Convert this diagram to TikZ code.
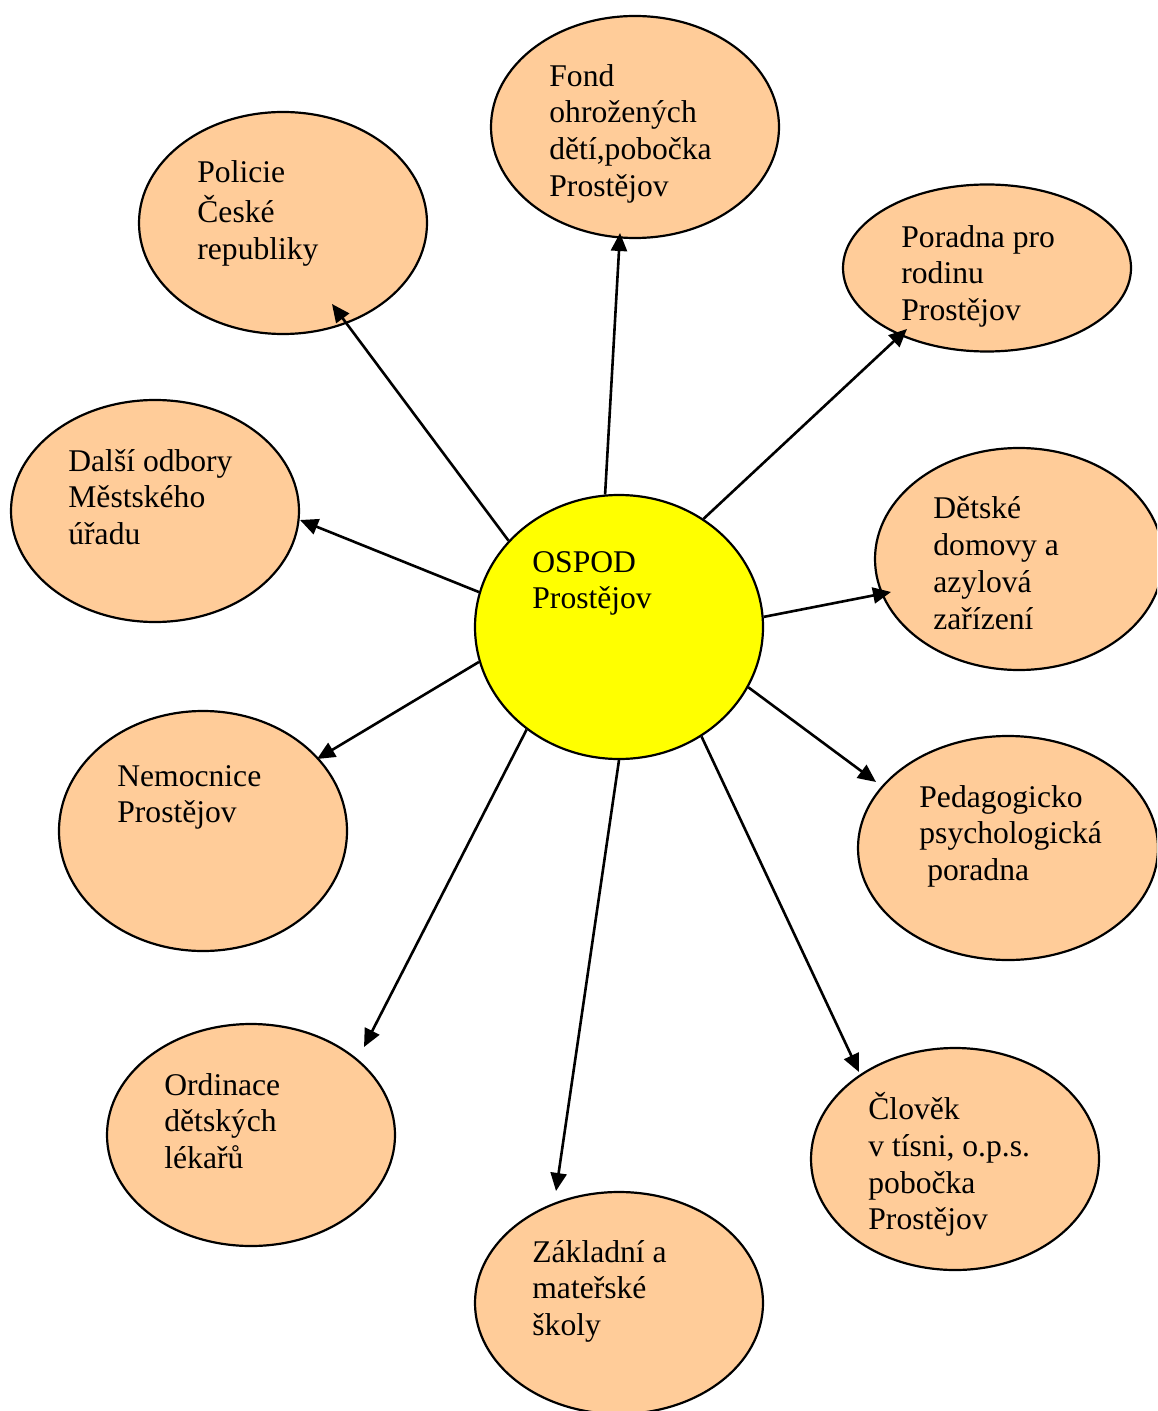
\documentclass[tikz,border=0pt]{standalone}
\usepackage{fontspec}
\setmainfont{Liberation Serif}
\usetikzlibrary{arrows.meta,shapes.geometric}
\definecolor{peach}{HTML}{FFCC99}
\definecolor{ospodyellow}{HTML}{FFFF00}
\begin{document}
\begin{tikzpicture}[x=0.5pt,y=-0.5pt,
  bubble/.style={ellipse, draw=black, line width=1.1pt, fill=peach, inner sep=0pt,
                 minimum width=144pt, minimum height=111pt},
  txt/.style={anchor=north west, inner sep=0pt, align=left,
              font=\fontsize{15.8}{18.4}\selectfont},
  link/.style={line width=1.3pt, -{Triangle[length=9pt,width=8pt]}}
]
\useasboundingbox (0,0) rectangle (1157,1411);
\clip (0,0) rectangle (1157,1411);

% ellipses
\node[bubble] (policie) at (283,223) {};
\node[bubble] (fond) at (635,127) {};
\node[bubble, minimum height=83.5pt] (poradna) at (987,268) {};
\node[bubble] (dalsi) at (155,511) {};
\node[bubble, fill=ospodyellow, minimum height=132pt] (ospod) at (619,627) {};
\node[bubble] (detske) at (1019,559) {};
\node[bubble, minimum height=120pt] (nemocnice) at (203,831) {};
\node[bubble, minimum width=150pt, minimum height=112pt] (pedag) at (1008,848) {};
\node[bubble] (ordinace) at (251,1135) {};
\node[bubble] (zakladni) at (619,1303) {};
\node[bubble] (clovek) at (955,1159) {};

% arrow tips
\coordinate (tPolicie) at (332,304);
\coordinate (tFond) at (620,233);
\coordinate (tPoradna) at (907,329);
\coordinate (tDalsi) at (300,520);
\coordinate (tDetske) at (891,592);
\coordinate (tNemocnice) at (317,759);
\coordinate (tPedag) at (876,782);
\coordinate (tOrdinace) at (364,1047);
\coordinate (tZakladni) at (556,1191);
\coordinate (tClovek) at (859,1072);

% connectors
\draw[link] (ospod.142.8) -- (tPolicie);
\draw[link] (ospod.96.5) -- (tFond);
\draw[link] (ospod.52.9) -- (tPoradna);
\draw[link] (ospod.166.2) -- (tDalsi);
\draw[link] (ospod.4.4) -- (tDetske);
\draw[link] (ospod.194.5) -- (tNemocnice);
\draw[link] (ospod.-25.7) -- (tPedag);
\draw[link] (ospod.228.6) -- (tOrdinace);
\draw[link] (ospod.-90) -- (tZakladni);
\draw[link] (ospod.-53.6) -- (tClovek);

% texts
\node[txt] (xPolicie) at (197,156) {\strut Policie\\České\\republiky};
\node[txt] (xFond) at (549,60) {\strut Fond\\ohrožených\\dětí,pobočka\\Prostějov};
\node[txt] (xPoradna) at (901,221) {\strut Poradna pro\\rodinu\\Prostějov};
\node[txt] (xDalsi) at (68,445) {\strut Další odbory\\Městského\\úřadu};
\node[txt] (xOspod) at (532,546) {\strut OSPOD\\Prostějov};
\node[txt] (xDetske) at (933,492.5) {\strut Dětské\\domovy a\\azylová\\zařízení};
\node[txt] (xNemocnice) at (117,760) {\strut Nemocnice\\Prostějov};
\node[txt] (xPedag) at (919,781) {\strut Pedagogicko\\psychologická\\\hspace*{0.25em}poradna};
\node[txt] (xOrdinace) at (164,1069) {\strut Ordinace\\dětských\\lékařů};
\node[txt] (xZakladni) at (532,1236) {\strut Základní a\\mateřské\\školy};
\node[txt] (xClovek) at (868,1092) {\strut Člověk\\v tísni, o.p.s.\\pobočka\\Prostějov};
\end{tikzpicture}
\end{document}
